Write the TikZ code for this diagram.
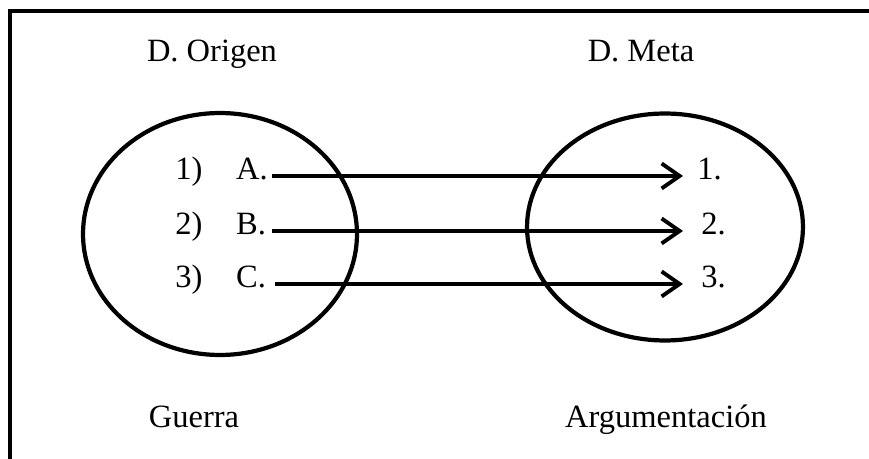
\documentclass[tikz,border=0pt]{standalone}
\usepackage{fontspec}
\setmainfont{Liberation Serif}
\usetikzlibrary{arrows.meta,positioning}

\begin{document}
\begin{tikzpicture}[x=0.02cm,y=-0.02cm,
    every node/.style={inner sep=0pt,font=\fontsize{18.5}{22}\selectfont},
    conj/.style={line width=2.4pt},
    flecha/.style={line width=2.2pt,-{Straight Barb[length=0.36cm,width=0.5cm]}}]
    \useasboundingbox (0,0) rectangle (869,459);
    % marco
    \draw[line width=2.2pt] (10,459) -- (10,11) -- (869,11);
    % conjuntos
    \draw[conj] (220,234) ellipse [x radius=2.74cm, y radius=2.42cm];
    \draw[conj] (665,227) ellipse [x radius=2.76cm, y radius=2.27cm];
    % titulos
    \node[anchor=base] (origen) at (212,62) {D. Origen};
    \node[anchor=base] (meta) at (641,62) {D. Meta};
    \node[anchor=base] (guerra) at (194,427) {Guerra};
    \node[anchor=base] (argum) at (666,427) {Argumentación};
    % dominio origen
    \node[anchor=base west] (n1) at (175,180) {1)};
    \node[base right=0.66cm of n1] (a) {A.};
    \node[anchor=base west] (n2) at (175,235) {2)};
    \node[base right=0.66cm of n2] (b) {B.};
    \node[anchor=base west] (n3) at (175,288) {3)};
    \node[base right=0.66cm of n3] (c) {C.};
    % dominio meta
    \node[anchor=base west] (m1) at (697,180) {1.};
    \node[anchor=base west] (m2) at (701,235) {2.};
    \node[anchor=base west] (m3) at (701,288) {3.};

    \draw[flecha, shorten <=0.08cm, shorten >=0.28cm] (a.mid east) -- (m1.mid west);
    \draw[flecha, shorten <=0.12cm, shorten >=0.36cm] (b.mid east) -- (m2.mid west);
    \draw[flecha, shorten <=0.18cm, shorten >=0.36cm] (c.mid east) -- (m3.mid west);
\end{tikzpicture}
\end{document}
